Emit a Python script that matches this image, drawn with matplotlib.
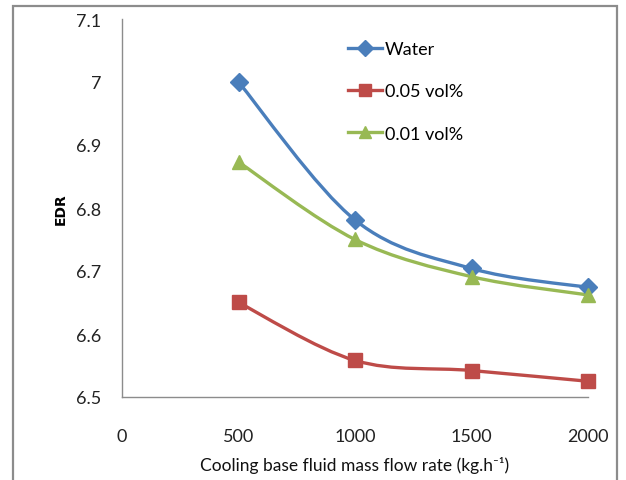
import numpy as np
import matplotlib
matplotlib.use('Agg')
import matplotlib.pyplot as plt
from matplotlib.path import Path
from matplotlib.patches import PathPatch, Rectangle
from matplotlib.lines import Line2D

# data
flow_rate = [500, 1000, 1500, 2000]
edr_water = [7.0, 6.781, 6.704, 6.674]
edr_005 = [6.650, 6.558, 6.542, 6.525]
edr_001 = [6.873, 6.750, 6.691, 6.662]
series_labels = ['Water', '0.05 vol%', '0.01 vol%']
x_ticks = [0, 500, 1000, 1500, 2000]
y_ticks = [6.5, 6.6, 6.7, 6.8, 6.9, 7.0, 7.1]
y_tick_labels = ['6.5', '6.6', '6.7', '6.8', '6.9', '7', '7.1']

plt.rcParams['font.family'] = ['Lato', 'DejaVu Sans']


def smooth_path(xs, ys):
    # smoothed line like excel: cubic bezier, control points 1/6 of neighbour chord
    pts = np.column_stack([xs, ys]).astype(float)
    n = len(pts)
    verts = [pts[0]]
    codes = [Path.MOVETO]
    for i in range(n - 1):
        p0 = pts[i - 1] if i > 0 else pts[i]
        p3 = pts[i + 2] if i + 2 < n else pts[i + 1]
        c1 = pts[i] + (pts[i + 1] - p0) / 6
        c2 = pts[i + 1] - (p3 - pts[i]) / 6
        verts += [c1, c2, pts[i + 1]]
        codes += [Path.CURVE4] * 3
    return Path(verts, codes)


fig = plt.figure(figsize=(6.26, 4.81), dpi=100)
ax = fig.add_axes([122 / 626, 1 - 398 / 481, (588 - 122) / 626, (398 - 20) / 481])

styles = [
    (edr_water, '#4A7EBB', 'D', 9),
    (edr_005, '#BE4B48', 's', 10),
    (edr_001, '#98B954', '^', 10),
]
handles = []
for (vals, col, mk, ms), lab in zip(styles, series_labels):
    ax.add_patch(PathPatch(smooth_path(flow_rate, vals), facecolor='none',
                           edgecolor=col, lw=2.4, capstyle='round', zorder=2))
    ax.plot(flow_rate, vals, linestyle='none', marker=mk, markersize=ms,
            color=col, zorder=3, clip_on=False)
    handles.append(Line2D([], [], color=col, lw=2.4, marker=mk, markersize=ms - 1))

ax.set_xlim(0, 2000)
ax.set_ylim(6.5, 7.1)
ax.set_xticks(x_ticks)
ax.set_yticks(y_ticks)
ax.set_yticklabels(y_tick_labels)
ax.tick_params(axis='both', length=0, labelsize=13, colors='#222222')
ax.tick_params(axis='x', pad=22)
ax.tick_params(axis='y', pad=15)

for s in ['top', 'right']:
    ax.spines[s].set_visible(False)
for s in ['left', 'bottom']:
    ax.spines[s].set_color('#8c8c8c')
    ax.spines[s].set_linewidth(1)

fig.text(355 / 626, 1 - 466 / 481, 'Cooling base fluid mass flow rate (kg.h\u207b\u00b9)',
         fontsize=12.5, color='#111111', ha='center', va='center')
ax.set_ylabel('EDR', fontsize=10, fontweight='bold', family='DejaVu Sans', labelpad=6)

ax.legend(handles, series_labels, loc='upper left', bbox_to_anchor=(0.465, 0.965),
          frameon=False, fontsize=13, handlelength=1.9, handletextpad=0.15,
          labelspacing=1.45, borderpad=0)

# outer chart frame
fig.add_artist(Rectangle((13 / 626, -0.05), (617 - 13) / 626, 1.05 - 7 / 481,
                         transform=fig.transFigure, fill=False,
                         edgecolor='#8c8c8c', lw=1.6))

fig.savefig('out.png', dpi=100)
